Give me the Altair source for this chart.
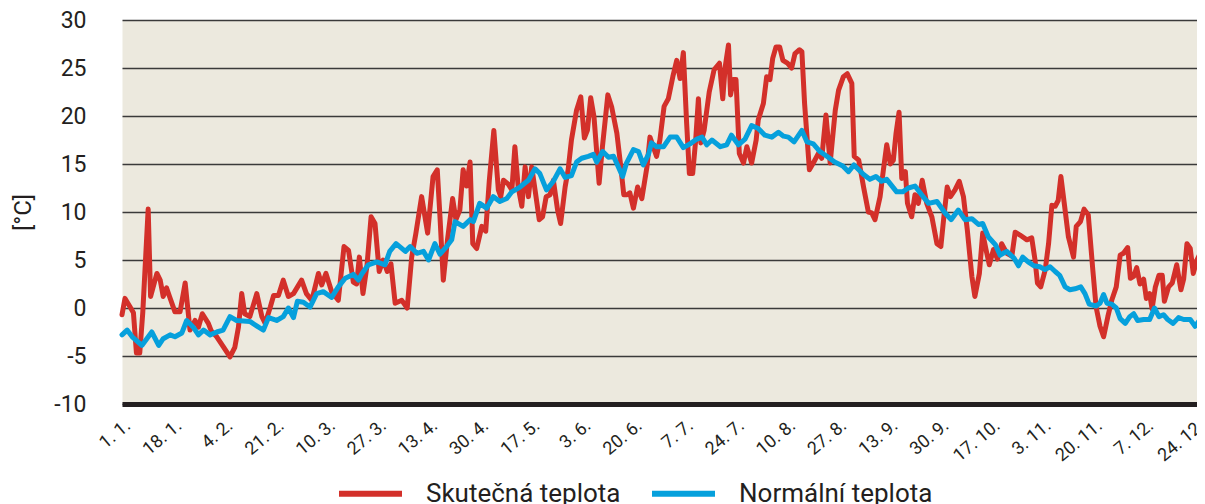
import altair as alt
import pandas as pd

# ---- data (day of year, 0 = 1 Jan) ----
red_days = [0, 1, 2.7, 3.8, 4.8, 5.9, 6.9, 8.7, 9.5, 11.6, 12.7, 13.7, 14.8, 15.8, 17.6, 19.3,
            21.0, 22.6, 24.3, 25.4, 26.7, 28.7, 29.7, 31.5, 33.6, 35.9, 37.5, 38.7, 39.8, 40.8,
            42.5, 44.8, 46.5, 47.6, 49.3, 50.4, 52.0, 53.6, 55.3, 57.0, 59.7, 61.3, 63.1, 65.3,
            66.4, 67.8, 69.7, 71.9, 73.8, 75.3, 76.9, 78.0, 78.9, 80.1, 81.4, 82.8, 84.1, 85.5,
            86.8, 88.2, 89.4, 90.8, 93.0, 94.8, 96.3, 97.7, 99.6, 101.6, 103.4, 104.8, 105.7,
            106.8, 108.2, 109.9, 111.0, 112.3, 113.4, 114.5, 115.7, 116.6, 117.9, 119.6, 120.9,
            122.1, 123.6, 125.1, 125.9, 126.8, 128.4, 129.6, 130.6, 131.7, 132.9, 134.0, 135.1,
            136.2, 137.3, 138.7, 139.8, 141.0, 142.3, 143.4, 144.8, 145.8, 147.3, 148.3, 149.4,
            151.1, 152.5, 153.7, 154.7, 155.8, 156.9, 158.6, 159.7, 161.5, 162.8, 164.5, 165.7,
            166.8, 167.9, 168.8, 170.0, 171.4, 172.8, 174.5, 175.5, 177.7, 178.8, 180.2, 181.6,
            183.1, 184.4, 185.5, 186.6, 187.7, 188.6, 189.7, 190.7, 191.6, 192.4, 193.5, 195.2,
            196.8, 198.6, 199.7, 200.5, 201.6, 202.3, 203.2, 204.1, 205.2, 206.6, 207.7, 209.3,
            210.8, 211.5, 213.2, 214.3, 215.4, 216.3, 217.4, 218.6, 219.7, 221.2, 222.6, 223.7,
            225.2, 226.0, 226.9, 228.5, 229.8, 231.5, 232.6, 234.0, 235.4, 237.1, 238.2, 239.8,
            241.1, 242.6, 243.4, 244.9, 246.5, 248.1, 249.2, 250.3, 252.0, 253.1, 254.2, 255.4,
            256.4, 257.3, 258.3, 259.2, 260.4, 261.1, 262.5, 263.6, 264.7, 266.0, 267.5, 269.2,
            270.9, 272.2, 273.1, 274.3, 275.4, 276.9, 278.3, 279.7, 281.0, 282.5, 283.5, 285.0,
            286.1, 287.2, 288.3, 289.7, 291.0, 292.4, 294.1, 295.8, 296.9, 298.5, 300.8, 302.4,
            303.5, 304.3, 305.4, 306.9, 308.0, 309.1, 310.2, 311.2, 312.1, 313.5, 314.6, 316.3,
            317.2, 318.6, 319.8, 321.2, 322.7, 323.8, 325.1, 326.3, 327.7, 329.0, 330.5, 331.8,
            332.9, 334.3, 335.2, 336.3, 337.3, 338.4, 339.6, 340.5, 341.6, 342.4, 343.5, 344.7,
            345.8, 346.5, 347.9, 349.1, 350.6, 352.0, 352.9, 354.0, 355.1, 356.1, 357.3, 358.1,
            358.9, 360.0]
red_values = [-0.7, 1.0, 0.1, -0.5, -4.7, -4.7, -0.5, 10.3, 1.2, 3.6, 2.9, 1.2, 2.1, 1.2, -0.4, -0.4,
              2.6, -2.3, -1.3, -2.0, -0.6, -1.6, -2.4, -3.0, -4.0, -5.1, -4.1, -2.0, 1.5, -0.6,
              -0.9, 1.5, -0.9, -1.6, 0.1, 1.3, 1.3, 2.9, 1.2, 1.5, 2.9, 1.5, 0.8, 3.6,
              2.4, 3.6, 1.7, 0.8, 6.4, 6.0, 2.7, 2.5, 5.3, 1.5, 4.3, 9.5, 8.8, 3.8,
              5.0, 3.8, 4.6, 0.5, 0.8, 0.0, 5.3, 7.8, 11.6, 7.8, 13.7, 14.4, 9.5,
              2.9, 7.1, 11.4, 9.2, 10.2, 14.4, 12.7, 15.2, 6.7, 6.2, 8.5, 8.0,
              13.3, 18.5, 12.3, 11.6, 13.3, 12.9, 12.3, 16.8, 12.6, 10.6, 14.7, 11.6,
              14.7, 12.3, 9.2, 9.5, 11.6, 11.8, 13.3, 10.2, 8.8, 12.6, 14.4, 17.5,
              20.6, 22.0, 17.7, 18.5, 21.9, 19.9, 13.0, 16.8, 22.2, 20.9, 18.2, 15.0,
              11.8, 11.8, 12.0, 10.4, 12.6, 11.4, 14.7, 17.8, 15.8, 17.5, 21.0, 21.8,
              24.1, 25.8, 23.9, 26.6, 19.2, 14.0, 14.0, 17.5, 21.8, 17.2, 18.5, 22.5,
              24.8, 25.5, 21.8, 25.1, 27.4, 22.2, 23.8, 23.8, 16.1, 15.1, 16.8, 15.1,
              17.5, 19.6, 21.3, 24.1, 23.8, 26.0, 27.2, 27.2, 25.8, 25.5, 25.0, 26.5,
              26.9, 26.7, 21.3, 14.4, 15.1, 16.1, 15.6, 20.1, 15.1, 20.6, 22.7, 24.1,
              24.4, 23.4, 15.8, 15.4, 12.6, 10.0, 9.9, 9.2, 11.6, 14.4, 17.0, 15.0,
              15.4, 18.2, 20.4, 13.5, 14.2, 10.9, 9.5, 11.8, 10.9, 13.3, 10.9, 9.5,
              6.7, 6.4, 9.2, 12.6, 11.6, 12.3, 13.2, 11.6, 8.1, 3.3, 1.2, 3.6,
              7.8, 6.1, 4.5, 6.1, 5.1, 6.7, 5.7, 5.4, 7.9, 7.6, 7.1, 7.3,
              5.0, 2.6, 2.2, 4.0, 6.7, 10.7, 10.6, 11.2, 13.7, 10.2, 7.4, 5.3,
              8.5, 9.0, 10.3, 9.7, 4.0, 0.1, -1.9, -3.0, -0.9, 0.8, 2.2, 5.5,
              5.7, 6.3, 3.1, 3.3, 4.2, 2.5, 3.0, 1.0, 1.5, -0.1, 2.2, 3.4,
              3.4, 0.7, 2.2, 2.6, 4.5, 1.9, 3.0, 6.7, 6.2, 3.6, 5.0, 5.5,
              3.3, 2.6]

blue_days = [0, 1.7, 3.4, 6.6, 9.9, 12.2, 13.7, 16.0, 17.6, 19.9, 21.5, 23.7, 25.4, 27.1, 29.3,
             31.5, 33.6, 35.9, 38.1, 42.5, 45.4, 47.0, 48.7, 51.4, 53.6, 55.3, 57.0, 58.3, 60.3,
             62.5, 64.7, 66.9, 69.7, 71.9, 74.2, 76.9, 78.6, 79.8, 81.9, 84.7, 87.4, 89.0, 91.1,
             94.2, 95.8, 98.0, 100.2, 101.9, 104.0, 105.7, 107.9, 109.6, 110.7, 113.4, 115.7,
             116.8, 118.9, 121.2, 123.4, 125.6, 127.9, 129.6, 132.3, 135.1, 137.3, 138.9, 141.1,
             143.4, 145.6, 147.3, 149.4, 151.1, 152.8, 155.0, 156.7, 157.8, 159.8, 161.7, 163.4,
             165.0, 166.4, 167.7, 170.0, 171.7, 173.3, 175.0, 176.0, 177.7, 180.0, 182.2, 184.4,
             186.6, 188.8, 191.1, 192.8, 194.4, 196.1, 198.9, 201.0, 202.6, 204.9, 207.1, 209.3,
             211.5, 213.7, 216.0, 218.2, 219.9, 221.5, 223.4, 226.0, 227.7, 229.8, 232.0, 234.3,
             236.9, 239.6, 241.5, 243.3, 246.5, 248.6, 250.6, 252.5, 254.2, 257.5, 259.5, 261.4,
             263.6, 265.8, 268.1, 270.9, 273.6, 275.6, 278.0, 280.2, 282.5, 284.7, 286.1, 288.0,
             290.3, 291.9, 294.1, 296.5, 298.0, 299.4, 301.2, 303.1, 305.1, 306.8, 308.5, 310.2,
             311.7, 313.5, 315.1, 316.8, 318.7, 320.1, 321.5, 323.8, 325.1, 326.3, 327.4, 329.0,
             330.5, 331.8, 333.5, 335.0, 336.3, 337.6, 339.6, 341.6, 343.2, 344.7, 346.2, 347.6,
             349.4, 351.2, 352.9, 355.1, 356.7, 358.4, 360.0]
blue_values = [-2.8, -2.3, -3.0, -3.9, -2.5, -3.9, -3.2, -2.8, -3.0, -2.6, -1.3, -2.0, -2.8, -2.3, -2.8,
               -2.5, -2.3, -0.9, -1.3, -1.4, -2.0, -2.3, -1.0, -1.3, -0.9, 0.0, -1.0, 0.7, 0.6,
               0.1, 1.5, 1.7, 1.1, 2.2, 3.1, 3.5, 2.9, 3.6, 4.5, 4.8, 4.5, 5.9, 6.7,
               5.9, 6.4, 5.7, 5.9, 5.0, 6.7, 5.6, 6.4, 7.1, 9.0, 8.5, 9.2,
               9.0, 10.9, 10.4, 11.6, 11.1, 11.4, 12.1, 12.6, 13.3, 14.5, 14.0, 12.3,
               13.2, 14.5, 13.6, 13.8, 15.2, 15.6, 15.8, 16.0, 15.2, 16.3, 15.7, 15.8,
               14.7, 13.7, 15.1, 16.5, 16.3, 14.9, 16.0, 17.2, 16.8, 16.8, 17.8, 17.8,
               16.7, 17.1, 17.6, 17.8, 17.0, 17.5, 16.8, 17.0, 18.0, 17.0, 17.6, 19.0,
               18.7, 18.0, 17.8, 18.3, 17.9, 17.8, 17.3, 18.5, 17.3, 17.1, 16.3, 15.8,
               15.2, 14.8, 14.2, 14.9, 13.9, 13.4, 13.7, 13.2, 13.4, 12.1, 12.1, 12.5,
               12.7, 11.8, 10.9, 11.1, 9.9, 9.2, 10.2, 9.2, 9.3, 8.7, 8.8, 7.4,
               6.6, 5.5, 5.9, 5.2, 4.4, 5.3, 4.8, 4.4, 4.3, 4.0, 4.3, 3.8,
               3.4, 2.2, 1.9, 2.0, 2.2, 1.5, 0.4, 0.2, 0.5, 1.4, 0.5, 0.4,
               0.0, -1.1, -1.6, -0.9, -0.6, -1.3, -1.2, -1.2, 0.0, -0.9, -0.7, -1.2,
               -1.6, -1.0, -1.2, -1.2, -1.9, -1.2, -0.8]

series_names = ["Skutečná teplota", "Normální teplota"]
series_colors = ["#D3302A", "#06A0DC"]

tick_days = [0, 17, 34, 51, 68, 85, 102, 119, 136, 153, 170, 187, 204, 221, 238, 255,
             272, 289, 306, 323, 340, 357]
tick_labels = ["1. 1.", "18. 1.", "4. 2.", "21. 2.", "10. 3.", "27. 3.", "13. 4.", "30. 4.",
               "17. 5.", "3. 6.", "20. 6.", "7. 7.", "24. 7.", "10. 8.", "27. 8.", "13. 9.",
               "30. 9.", "17. 10.", "3. 11.", "20. 11.", "7. 12.", "24. 12."]
y_ticks = [-10, -5, 0, 5, 10, 15, 20, 25, 30]

red_df = pd.DataFrame({"day": red_days, "t": red_values, "s": series_names[0]})
blue_df = pd.DataFrame({"day": blue_days, "t": blue_values, "s": series_names[1]})

FONT = "Roboto"
TXT = "#231f20"

label_expr = "[" + ",".join("'" + l + "'" for l in tick_labels) + "][round(datum.value/17)]"

x_enc = alt.X("day:Q",
              scale=alt.Scale(domain=[0, 360], nice=False, zero=False),
              axis=alt.Axis(values=tick_days, labelExpr=label_expr, title=None,
                            grid=False, ticks=False, tickSize=0,
                            domainColor=TXT, domainWidth=5,
                            labelAngle=-40, labelAlign="right", labelBaseline="middle",
                            labelPadding=19, labelOffset=6,
                            labelFont=FONT, labelFontSize=18, labelColor=TXT,
                            labelOverlap=False, labelFlush=False, labelBound=False))
y_enc = alt.Y("t:Q",
              scale=alt.Scale(domain=[-10, 30], nice=False, zero=False),
              axis=alt.Axis(values=y_ticks, title="[°C]", grid=True,
                            labelExpr="'' + datum.value",
                            gridColor="#3a3a3a", gridWidth=1.6,
                            domain=False, ticks=False, tickSize=0, labelPadding=36,
                            labelFont=FONT, labelFontSize=23, labelColor=TXT,
                            titleFont=FONT, titleFontSize=24, titleColor=TXT,
                            titleFontWeight="normal", titleX=-87, titleY=192,
                            titleAngle=270, titleAlign="center", titleBaseline="bottom",
                            labelOverlap=False))
color_enc = alt.Color("s:N",
                      scale=alt.Scale(domain=series_names, range=series_colors),
                      legend=alt.Legend(title=None, orient="none", legendX=214, legendY=439,
                                        direction="horizontal", symbolType="stroke",
                                        symbolSize=3969, symbolStrokeWidth=6,
                                        labelFont=FONT, labelFontSize=26, labelColor=TXT,
                                        labelOffset=21, columnPadding=19, padding=0,
                                        labelLimit=400))

red = alt.Chart(red_df).mark_line(strokeWidth=5, strokeJoin="round", strokeCap="round").encode(
    x=x_enc, y=y_enc, color=color_enc)
blue = alt.Chart(blue_df).mark_line(strokeWidth=5, strokeJoin="round", strokeCap="round").encode(
    x=x_enc, y=y_enc, color=color_enc)

# plot area runs from page x=122 past the right edge (the reference crops it there)
chart = alt.layer(red, blue).properties(
    width=1083, height=384,
    autosize=alt.AutoSizeParams(type="none"),
    padding={"left": 114, "top": 12, "right": -8, "bottom": 100},
).configure_view(fill="#ECE9DE", stroke="transparent")

chart.save("out.html", embed_options={"renderer": "svg", "actions": False})
